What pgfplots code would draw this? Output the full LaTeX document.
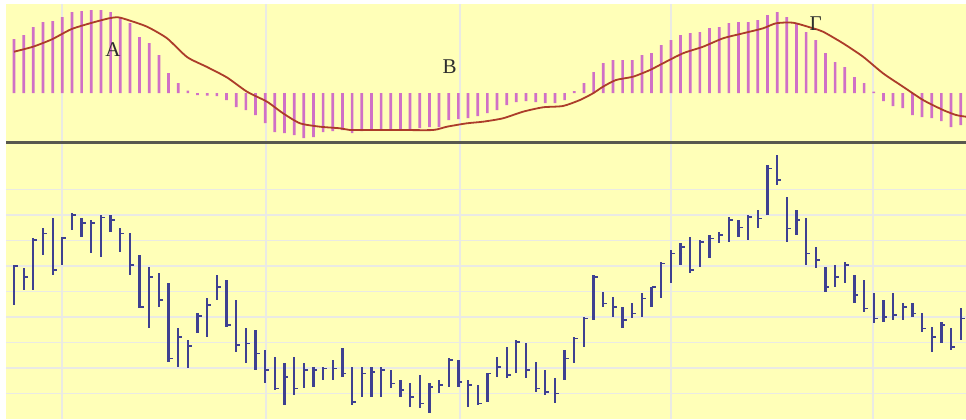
\documentclass[border=0pt]{standalone}
\usepackage{fontspec}
\setmainfont{Liberation Serif}
\usepackage{pgfplots}
\usepackage{pgfplotstable}
\pgfplotsset{compat=1.18}

\definecolor{bgyellow}{RGB}{255,255,184}
\definecolor{gridc}{RGB}{234,234,228}
\definecolor{histpink}{RGB}{208,112,198}
\definecolor{sigred}{RGB}{172,60,42}
\definecolor{barblue}{RGB}{62,64,145}
\definecolor{sepgray}{RGB}{88,88,78}
\definecolor{labelc}{RGB}{45,45,45}

% close tick of a price bar, to the right
\pgfdeclareplotmark{closetick}{%
  \pgfpathmoveto{\pgfqpoint{0pt}{0pt}}%
  \pgfpathlineto{\pgfqpoint{2pt}{0pt}}%
  \pgfusepathqstroke}

% price bars: index, high, low, close
\pgfplotstableread{
i h l c
0 154 114 153
1 150.7 129 142.3
2 180.7 129 179
3 190.7 164 185.7
4 200.7 144 149
5 182.3 154 181.3
6 205.7 189 204
7 200.7 182.3 196.3
8 199 165.7 196.3
9 204 162.3 201.7
10 204 187.3 199
11 190.7 167.3 185.7
12 185.7 144 154
13 164 110.7 112.3
14 152.3 90.7 142.3
15 145.7 112.3 119
16 135.7 57.3 60.7
17 90.7 52.3 82.3
18 79 50.7 73
19 105.7 85.7 103
20 120.7 82.3 114
21 144 119 132.3
22 139 92.3 94
23 119 67.3 74
24 90.7 55.7 75.7
25 89 49 65.7
26 69 35.7 49
27 62.3 29 30.7
28 55.7 14 42
29 62.3 24 30.7
30 55.7 30.7 49
31 52.3 32.3 49
32 52.3 39 50.7
33 59 39 50.7
34 70.7 42.3 45.7
35 52.3 14 17.3
36 52.3 22.3 45.7
37 52.3 22.3 47.3
38 52.3 22.3 49
39 49 30.7 35.7
40 39 22.3 29
41 35.7 12.3 22.3
42 44 10.7 15.7
43 35.7 5.7 32.3
44 39 25.7 34
45 60.7 32.3 59
46 59 32.3 37.3
47 39 12.3 34
48 34 14 15.7
49 45.7 17.3 45.7
50 62.3 42.3 52.3
51 72.3 40.7 44
52 79 45.7 77.3
53 75.7 40.7 49
54 57.3 27.3 30.7
55 49 24 27.3
56 40.7 15.7 25.7
57 69 39 60.7
58 82.3 55.7 80.7
59 102.3 72.3 100.7
60 144 99 142.3
61 127.3 112.3 115.7
62 122.3 102.3 112.3
63 112.3 90.7 99
64 115.7 100.7 105.7
65 125.7 102.3 120.7
66 132.3 112.3 132.3
67 157.3 120.7 155.7
68 169 135.7 165.7
69 175.7 154 172.3
70 182.3 145.7 149
71 179 152.3 177.3
72 184 160.7 180.7
73 187.3 175.7 184
74 202.3 177.3 199
75 199 182.3 191.7
76 204 179 202.3
77 209 190.7 200.7
78 254 204 250.7
79 264 234 239
80 222.3 177.3 190.7
81 209 184 199
82 200.7 154 165.7
83 172.3 150.7 159
84 152.3 127.3 132.3
85 154 132.3 142.3
86 157.3 135.7 154
87 144 115.7 124
88 139 107.3 110.7
89 125.7 96.3 100.7
90 119 97.3 102.3
91 125.7 99 104
92 115.7 99 112.3
93 115.7 102.3 105.7
94 105.7 87.3 90.7
95 92.3 67.3 82.3
96 97.3 75.7 94
97 90.7 69 72.3
98 110.7 79 100.7
}\ohlc

% oscillator histogram
\pgfplotstableread{
i v
0 54
1 58
2 66
3 71
4 72
5 76
6 81
7 82
8 83
9 83
10 81
11 76
12 70
13 56
14 50
15 38
16 20
17 10
18 2.5
19 -2
20 -2.5
21 -3
22 -7
23 -14
24 -17
25 -22
26 -30
27 -39
28 -40
29 -42
30 -45
31 -44
32 -39
33 -38
34 -37
35 -40
36 -38
37 -37
38 -37
39 -37
40 -36
41 -36
42 -35
43 -34
44 -34
45 -27
46 -26
47 -25
48 -23
49 -20
50 -17
51 -12
52 -9
53 -8
54 -9
55 -10
56 -10
57 -7
58 2
59 10
60 21
61 30
62 33
63 33
64 33
65 38
66 40
67 48
68 53
69 58
70 60
71 61
72 65
73 66
74 70
75 71
76 71
77 73
78 78
79 81
80 76
81 70
82 61
83 53
84 40
85 31
86 26
87 16
88 10
89 1.5
90 -8
91 -13
92 -15
93 -22
94 -24
95 -25
96 -28
97 -34
98 -32
}\hist

\begin{document}
\begin{tikzpicture}
\useasboundingbox (0,0) rectangle (483pt,209.5pt);

% lower panel: price bars
\begin{axis}[
    at={(3pt,0pt)}, anchor=south west,
    scale only axis, width=480pt, height=138.25pt,
    xmin=-0.83, xmax=98.55, ymin=0, ymax=276.5,
    axis background/.style={fill=bgyellow},
    axis line style={draw=none},
    xtick={4.97,26.09,46.17,68.01,88.92},
    ytick={25.5,51,76.5,102,127.5,153,178.5,204,229.5},
    xticklabels={}, yticklabels={},
    major tick length=0pt,
    grid=major, grid style={gridc, line width=0.8pt},
]
\addplot[only marks, mark=closetick, mark options={barblue, line width=0.8pt},
    error bars/.cd, y dir=both, y explicit, error mark=none,
    error bar style={barblue, line width=1.15pt}]
    table[x=i, y=c, y error plus expr=\thisrow{h}-\thisrow{c},
          y error minus expr=\thisrow{c}-\thisrow{l}] {\ohlc};
\end{axis}

% upper panel: oscillator
\begin{axis}[
    at={(3pt,138.25pt)}, anchor=south west,
    scale only axis, width=480pt, height=69.25pt,
    xmin=-0.83, xmax=98.55, ymin=-49.5, ymax=89,
    axis background/.style={fill=bgyellow},
    axis x line=bottom, axis y line=none,
    x axis line style={sepgray, line width=1.25pt, -},
    xtick={4.97,26.09,46.17,68.01,88.92}, ytick=\empty,
    xticklabels={},
    major tick length=0pt,
    xmajorgrids, grid style={gridc, line width=0.8pt},
]
\addplot[ybar, bar width=1.35pt, fill=histpink, draw=none] table[x=i, y=v] {\hist};
\addplot[sigred, line width=0.9pt, smooth, tension=0.4] coordinates {
    (0,41.3) (1.97,46.3) (3.93,53.7) (5.90,63.7) (7.87,69.7) (9.83,74.7)
    (10.77,75.7) (11.80,73) (13.77,66.3) (15.84,54.7) (17.91,36) (19.98,26)
    (22.05,15.5) (24.12,1.3) (26.19,-8.7) (27.85,-20.3) (29.61,-30.3)
    (31.68,-33.7) (33.75,-35.3) (34.78,-37) (36.54,-37) (39.96,-37)
    (43.37,-37) (44.82,-33.7) (46.89,-30.3) (48.55,-28.7) (50.62,-25.3)
    (52.69,-18.7) (54.76,-14.3) (56.83,-13) (58.59,-7) (59.94,-0.3)
    (60.97,6.3) (62.32,13) (64.08,16.3) (65.84,23) (67.18,29.7) (69.25,39.7)
    (71.33,46.3) (73.40,54.7) (75.47,59.7) (77.54,64.7) (78.88,69.7)
    (80.64,70.3) (82.71,64.7) (83.75,61.3) (85.82,49.7) (87.89,36.3)
    (89.96,19.7) (92.03,6.3) (94.10,-7) (96.17,-17) (97.52,-22) (98.55,-23.7)
};
\node[font=\fontsize{10.5}{12}\selectfont, text=labelc] at (axis cs:10.25,43) {A};
\node[font=\fontsize{10.5}{12}\selectfont, text=labelc] at (axis cs:45.1,26) {B};
\node[font=\fontsize{10.5}{12}\selectfont, text=labelc] at (axis cs:83.0,69) {Г};
\end{axis}
\end{tikzpicture}
\end{document}
